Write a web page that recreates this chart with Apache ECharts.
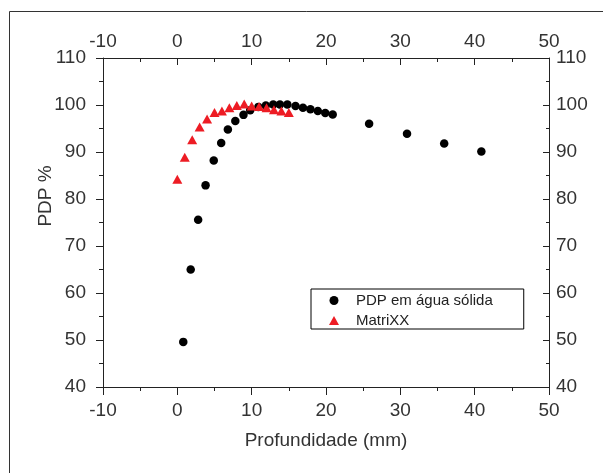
<!DOCTYPE html>
<html>
<head>
<meta charset="utf-8">
<script src="https://cdn.jsdelivr.net/npm/echarts@6/dist/echarts.min.js"></script>
<style>
  html, body { margin: 0; padding: 0; background: #fff; }
  #chart { width: 603px; height: 473px; }
</style>
</head>
<body>
<div id="chart"></div>
<script>
// PDP em água sólida (black circles)
var aguaX = [0.8, 1.8, 2.8, 3.8, 4.9, 5.9, 6.8, 7.8, 8.9, 9.8, 10.9, 11.9, 12.9, 13.8, 14.8, 15.9, 16.9, 17.9, 18.9, 19.9, 20.9, 25.8, 30.9, 35.9, 40.9];
var aguaY = [49.6, 65.0, 75.6, 82.9, 88.2, 91.9, 94.8, 96.6, 97.9, 98.9, 99.6, 99.9, 100.1, 100.1, 100.1, 99.8, 99.4, 99.1, 98.7, 98.3, 98.0, 96.0, 93.9, 91.8, 90.1];
// MatriXX (red triangles)
var matrixX = [0, 1, 2, 3, 4, 5, 6, 7, 8, 9, 10, 11, 12, 13, 14, 15];
var matrixY = [84.2, 88.9, 92.6, 95.3, 97.0, 98.4, 98.7, 99.4, 99.9, 100.2, 99.8, 99.7, 99.4, 99.0, 98.7, 98.4];

var xMin = -10, xMax = 50, xStep = 10;
var yMin = 40, yMax = 110, yStep = 10;

function pairs(xs, ys) {
    var out = [];
    for (var i = 0; i < xs.length; i++) out.push([xs[i], ys[i]]);
    return out;
}

var FONT = 'Liberation Sans, Arial, sans-serif';
var INK = '#222';

function axis(extra) {
    var base = {
        type: 'value',
        splitLine: { show: false },
        axisLine: { show: true, onZero: false, lineStyle: { color: INK, width: 1 } },
        axisLabel: { color: '#333', fontSize: 19, fontFamily: FONT },
        minorSplitLine: { show: false }
    };
    return Object.assign(base, extra);
}

var option = {
    animation: false,
    backgroundColor: '#fff',
    grid: { left: 103, right: 54, top: 58, bottom: 86 },
    xAxis: [
        axis({
            position: 'bottom', min: xMin, max: xMax, interval: xStep,
            name: 'Profundidade (mm)', nameLocation: 'middle', nameGap: 44,
            nameTextStyle: { color: '#333', fontSize: 19, fontFamily: FONT },
            axisTick: { show: true, inside: false, length: 8, lineStyle: { color: INK } },
            minorTick: { show: true, splitNumber: 2, length: 4, lineStyle: { color: INK } },
            axisLabel: { color: '#333', fontSize: 19, fontFamily: FONT, margin: 14 }
        }),
        axis({
            position: 'top', min: xMin, max: xMax, interval: xStep,
            axisTick: { show: true, inside: true, length: 7, lineStyle: { color: INK } },
            minorTick: { show: true, splitNumber: 2, length: 4, lineStyle: { color: INK } },
            axisLabel: { color: '#333', fontSize: 19, fontFamily: FONT, margin: 7 }
        })
    ],
    yAxis: [
        axis({
            position: 'left', min: yMin, max: yMax, interval: yStep,
            axisTick: { show: true, inside: false, length: 7, lineStyle: { color: INK } },
            minorTick: { show: true, splitNumber: 2, length: 4, lineStyle: { color: INK } },
            axisLabel: { color: '#333', fontSize: 19, fontFamily: FONT, margin: 17 }
        }),
        axis({
            position: 'right', min: yMin, max: yMax, interval: yStep,
            axisTick: { show: true, inside: true, length: 6, lineStyle: { color: INK } },
            minorTick: { show: true, splitNumber: 2, length: 3, lineStyle: { color: INK } },
            axisLabel: { color: '#333', fontSize: 19, fontFamily: FONT, margin: 7 }
        })
    ],
    legend: {
        orient: 'vertical',
        left: 311, top: 289,
        padding: [4, 31, 1, 18],
        itemGap: 5,
        itemWidth: 10, itemHeight: 9,
        borderColor: '#000', borderWidth: 1,
        textStyle: { color: '#222', fontSize: 15, fontFamily: FONT, lineHeight: 15, padding: [0, 0, 0, 12] },
        data: ['PDP em água sólida', 'MatriXX']
    },
    graphic: [
        {
            type: 'rect', silent: true, z: -1,
            shape: { x: 9.5, y: 11.5, width: 700, height: 600 },
            style: { fill: 'none', stroke: '#333', lineWidth: 1 }
        },
        {
            type: 'text', x: 46, y: 196, rotation: Math.PI / 2,
            style: {
                text: 'PDP %', fill: '#333', align: 'center', verticalAlign: 'middle',
                font: '19px ' + FONT
            }
        }
    ],
    series: [
        {
            name: 'PDP em água sólida',
            type: 'scatter',
            xAxisIndex: 0, yAxisIndex: 0,
            symbol: 'circle', symbolSize: 8.5,
            itemStyle: { color: '#000', opacity: 1 },
            data: pairs(aguaX, aguaY)
        },
        {
            name: 'MatriXX',
            type: 'scatter',
            xAxisIndex: 0, yAxisIndex: 0,
            symbol: 'triangle', symbolSize: [10, 9],
            itemStyle: { color: '#ed1c24', opacity: 1 },
            data: pairs(matrixX, matrixY)
        }
    ]
};

var myChart = echarts.init(document.getElementById('chart'));
myChart.setOption(option);
</script>
</body>
</html>
